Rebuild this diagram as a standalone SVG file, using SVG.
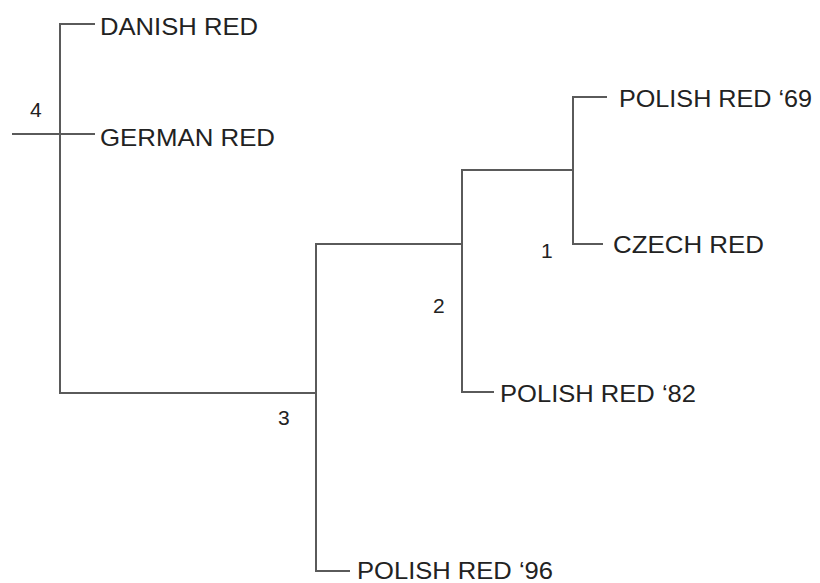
<svg xmlns="http://www.w3.org/2000/svg" width="820" height="583" viewBox="0 0 820 583">
<style>
.ln{stroke:#5a5a5a;stroke-width:2;fill:none}
.lb{font-family:"Liberation Sans",Arial,sans-serif;font-size:24px;fill:#222}
.nm{font-family:"Liberation Sans",Arial,sans-serif;font-size:21px;fill:#222}
</style>
<rect width="820" height="583" fill="#fff"/>
<g id="connectors">
<path class="ln" d="M95,24 H60 V393 H316"/>
<path class="ln" d="M12,134 H95"/>
<path class="ln" d="M350,571 H316 V244 H462"/>
<path class="ln" d="M494,392 H462 V170 H573"/>
<path class="ln" d="M607,97 H573 V244 H603"/>
</g>
<g id="n-danish"><text class="lb" x="100" y="35" textLength="158" lengthAdjust="spacingAndGlyphs">DANISH RED</text></g>
<g id="n-german"><text class="lb" x="100" y="146" textLength="175" lengthAdjust="spacingAndGlyphs">GERMAN RED</text></g>
<g id="n-polish69"><text class="lb" x="619" y="107" textLength="193" lengthAdjust="spacingAndGlyphs">POLISH RED ‘69</text></g>
<g id="n-czech"><text class="lb" x="613" y="253" textLength="151" lengthAdjust="spacingAndGlyphs">CZECH RED</text></g>
<g id="n-polish82"><text class="lb" x="500" y="402" textLength="196" lengthAdjust="spacingAndGlyphs">POLISH RED ‘82</text></g>
<g id="n-polish96"><text class="lb" x="357" y="579" textLength="196" lengthAdjust="spacingAndGlyphs">POLISH RED ‘96</text></g>
<g id="node4"><text class="nm" x="30" y="117">4</text></g>
<g id="node3"><text class="nm" x="278" y="425">3</text></g>
<g id="node2"><text class="nm" x="433" y="313">2</text></g>
<g id="node1"><text class="nm" x="541" y="258">1</text></g>
</svg>
